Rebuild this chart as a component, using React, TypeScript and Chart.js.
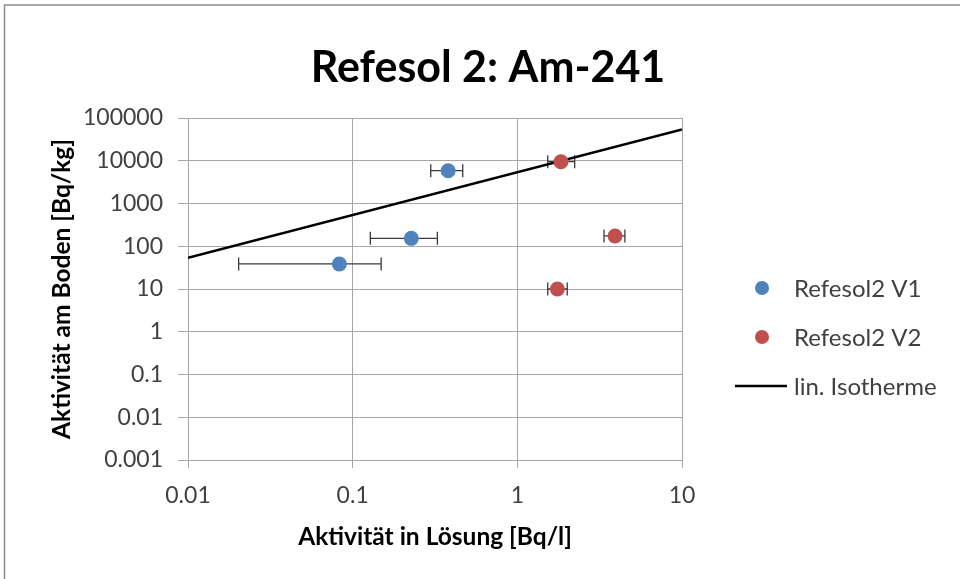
import { useEffect, useRef } from 'react';
import { Chart, registerables } from 'chart.js';

Chart.register(...registerables);

// ---- data ----
const chartTitle = 'Refesol 2: Am-241';
const xAxisTitle = 'Aktivität in Lösung [Bq/l]';
const yAxisTitle = 'Aktivität am Boden [Bq/kg]';

const v1Label = 'Refesol2 V1';
const v1X = [0.38, 0.227, 0.083];
const v1Y = [5850, 153, 38.5];
const v1XLow = [0.298, 0.128, 0.0203];
const v1XHigh = [0.466, 0.327, 0.149];

const v2Label = 'Refesol2 V2';
const v2X = [1.84, 3.92, 1.75];
const v2Y = [9500, 174, 10];
const v2XLow = [1.53, 3.36, 1.53];
const v2XHigh = [2.23, 4.5, 2.01];

const isoLabel = 'lin. Isotherme';
const isoX = [0.01, 10];
const isoY = [54, 54000];

const xTickValues = [0.01, 0.1, 1, 10];
const xTickLabels = ['0.01', '0.1', '1', '10'];
const yTickValues = [0.001, 0.01, 0.1, 1, 10, 100, 1000, 10000, 100000];
const yTickLabels = ['0.001', '0.01', '0.1', '1', '10', '100', '1000', '10000', '100000'];

// ---- styles ----
const BLUE = '#4F81BD';
const RED = '#C0504D';
const GRID = '#A6A6A6';
const TICK_COLOR = '#404040';

const framePlugin = {
  id: 'frame',
  beforeDraw(chart: any) {
    const { ctx, width, height } = chart;
    ctx.save();
    ctx.fillStyle = '#ffffff';
    ctx.fillRect(0, 0, width, height);
    ctx.strokeStyle = '#8C8C8C';
    ctx.lineWidth = 1.5;
    ctx.beginPath();
    ctx.moveTo(4.5, height);
    ctx.lineTo(4.5, 5);
    ctx.lineTo(width, 5);
    ctx.stroke();
    ctx.restore();
  },
};

const errorBarPlugin = {
  id: 'errorBars',
  beforeDatasetsDraw(chart: any) {
    const { ctx } = chart;
    const xs = chart.scales.x;
    const ys = chart.scales.y;
    ctx.save();
    ctx.strokeStyle = '#3A3A3A';
    ctx.lineWidth = 1.3;
    chart.data.datasets.forEach((ds: any) => {
      if (!ds.xErrLow) return;
      ds.data.forEach((p: any, i: number) => {
        const py = ys.getPixelForValue(p.y);
        const xl = xs.getPixelForValue(ds.xErrLow[i]);
        const xh = xs.getPixelForValue(ds.xErrHigh[i]);
        ctx.beginPath();
        ctx.moveTo(xl, py);
        ctx.lineTo(xh, py);
        ctx.moveTo(xl, py - 6.5);
        ctx.lineTo(xl, py + 6.5);
        ctx.moveTo(xh, py - 6.5);
        ctx.lineTo(xh, py + 6.5);
        ctx.stroke();
      });
    });
    ctx.restore();
  },
};

const titleLegendPlugin = {
  id: 'titleLegend',
  afterDraw(chart: any) {
    const { ctx } = chart;
    ctx.save();
    // title
    ctx.fillStyle = '#000000';
    ctx.font = 'bold 43px Lato';
    ctx.textAlign = 'center';
    ctx.textBaseline = 'alphabetic';
    ctx.fillText(chartTitle, 488, 82);

    // legend
    const rows = [288, 337, 386];
    ctx.font = '24px Lato';
    ctx.textAlign = 'left';
    chart.data.datasets.forEach((ds: any, i: number) => {
      const cy = rows[i];
      if (ds.type === 'line') {
        ctx.strokeStyle = ds.borderColor;
        ctx.lineWidth = 2.5;
        ctx.beginPath();
        ctx.moveTo(735, cy);
        ctx.lineTo(787, cy);
        ctx.stroke();
      } else {
        ctx.fillStyle = ds.backgroundColor;
        ctx.beginPath();
        ctx.arc(762, cy, 7, 0, Math.PI * 2);
        ctx.fill();
      }
      ctx.fillStyle = TICK_COLOR;
      ctx.fillText(ds.label, 794, cy + 8.6);
    });
    ctx.restore();
  },
};

export default function App() {
  const canvasRef = useRef<HTMLCanvasElement | null>(null);

  useEffect(() => {
    const canvas = canvasRef.current;
    if (!canvas) return;
    const chart = new Chart(canvas, {
      type: 'scatter',
      data: {
        datasets: [
          {
            label: v1Label,
            data: v1X.map((x, i) => ({ x, y: v1Y[i] })),
            backgroundColor: BLUE,
            borderColor: BLUE,
            pointRadius: 7.5,
            pointBorderWidth: 0,
            xErrLow: v1XLow,
            xErrHigh: v1XHigh,
          } as any,
          {
            label: v2Label,
            data: v2X.map((x, i) => ({ x, y: v2Y[i] })),
            backgroundColor: RED,
            borderColor: RED,
            pointRadius: 7.5,
            pointBorderWidth: 0,
            xErrLow: v2XLow,
            xErrHigh: v2XHigh,
          } as any,
          {
            type: 'line',
            label: isoLabel,
            data: isoX.map((x, i) => ({ x, y: isoY[i] })),
            borderColor: '#000000',
            backgroundColor: '#000000',
            borderWidth: 2.5,
            pointRadius: 0,
            showLine: true,
            fill: false,
          } as any,
        ],
      },
      options: {
        responsive: false,
        animation: false,
        layout: { padding: { top: 118, right: 278, bottom: 27.3, left: 0 } },
        plugins: {
          legend: { display: false },
          title: { display: false },
          tooltip: { enabled: false },
        },
        scales: {
          x: {
            type: 'logarithmic',
            min: 0.01,
            max: 10,
            afterBuildTicks: (scale: any) => {
              scale.ticks = xTickValues.map((v) => ({ value: v }));
            },
            afterFit: (scale: any) => {
              scale.height = 91.7;
            },
            ticks: {
              autoSkip: false,
              maxRotation: 0,
              padding: 14,
              color: TICK_COLOR,
              font: { family: 'Lato', size: 23 },
              callback: (_v: any, i: number) => xTickLabels[i],
            },
            grid: { color: GRID, lineWidth: 1, tickLength: 8, drawTicks: true },
            border: { color: GRID, width: 1 },
            title: {
              display: true,
              text: xAxisTitle,
              color: '#000000',
              font: { family: 'Lato', size: 24.5, weight: 'bold' },
              padding: { top: 0, bottom: 0 },
            },
          },
          y: {
            type: 'logarithmic',
            min: 0.001,
            max: 100000,
            afterBuildTicks: (scale: any) => {
              scale.ticks = yTickValues.map((v) => ({ value: v }));
            },
            afterFit: (scale: any) => {
              scale.width = 188;
            },
            ticks: {
              autoSkip: false,
              padding: 15,
              color: TICK_COLOR,
              font: { family: 'Lato', size: 23 },
              callback: (_v: any, i: number) => yTickLabels[i],
            },
            grid: { color: GRID, lineWidth: 1, tickLength: 10, drawTicks: true },
            border: { color: GRID, width: 1 },
            title: {
              display: true,
              text: yAxisTitle,
              color: '#000000',
              font: { family: 'Lato', size: 24.5, weight: 'bold' },
              padding: { top: 47, bottom: 0 },
            },
          },
        },
      } as any,
      plugins: [framePlugin, errorBarPlugin, titleLegendPlugin],
    });
    return () => chart.destroy();
  }, []);

  return (
    <div style={{ position: 'absolute', left: 0, top: 0, width: 960, height: 579, background: '#fff' }}>
      <canvas ref={canvasRef} width={960} height={579} style={{ display: 'block', width: 960, height: 579 }} />
    </div>
  );
}
